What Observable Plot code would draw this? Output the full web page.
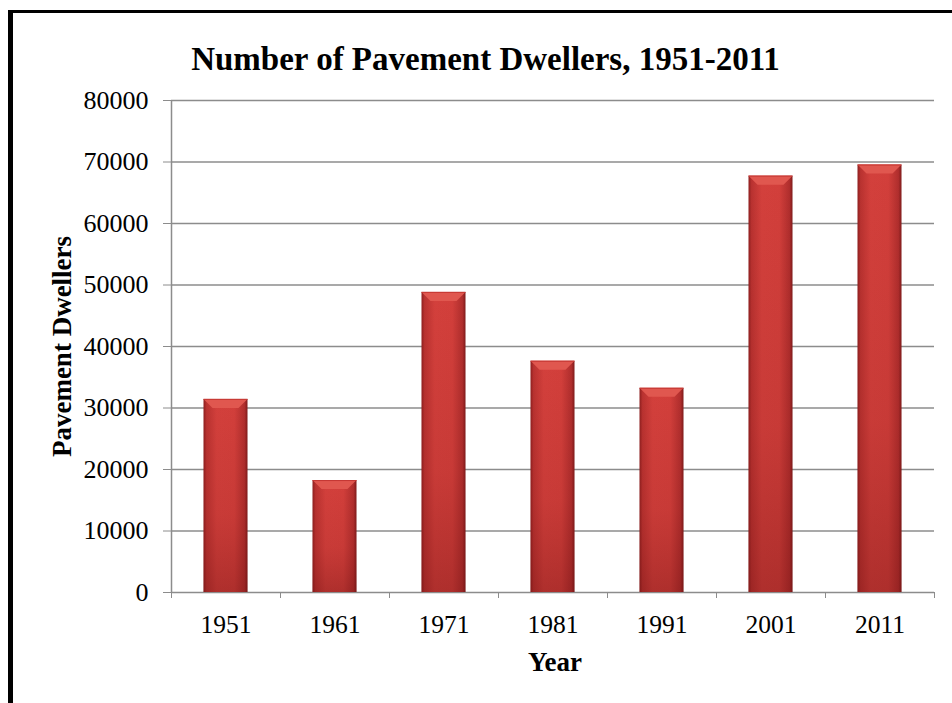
<!DOCTYPE html>
<html>
<head>
<meta charset="utf-8">
<script src="https://cdn.jsdelivr.net/npm/d3@7"></script>
<script src="https://cdn.jsdelivr.net/npm/@observablehq/plot@0.6"></script>
<style>
  html, body { margin: 0; padding: 0; background: #fff; }
  #wrap { position: relative; width: 952px; height: 703px; overflow: hidden; }
  #frame { position: absolute; left: 8px; top: 10px; width: 960px; height: 720px;
           border-left: 5px solid #000; border-top: 3px solid #000; box-sizing: border-box; }
  #chart { position: absolute; left: 0; top: 0; }
</style>
</head>
<body>
<div id="wrap"><div id="frame"></div><div id="chart"></div></div>
<script>
const title = "Number of Pavement Dwellers, 1951-2011";
const xLabel = "Year";
const yLabel = "Pavement Dwellers";
const years = ["1951", "1961", "1971", "1981", "1991", "2001", "2011"];
const dwellers = [31400, 18200, 48800, 37600, 33200, 67700, 69500];
const yTicks = [0, 10000, 20000, 30000, 40000, 50000, 60000, 70000, 80000];

const data = years.map((y, i) => ({year: y, i, value: dwellers[i]}));
const boundaries = d3.range(years.length + 1);
const centers = years.map((_, i) => i + 0.5);

const serif = "'Liberation Serif', 'Times New Roman', serif";
const grid = "#8c8c8c";
const inset = 32.5;

const defs = () => {
  const d = d3.create("svg:defs");
  const h = d.append("linearGradient").attr("id", "gh").attr("x1", 0).attr("x2", 1).attr("y1", 0).attr("y2", 0);
  h.append("stop").attr("offset", "0%").attr("stop-color", "#8e1f1f");
  h.append("stop").attr("offset", "7%").attr("stop-color", "#b93230");
  h.append("stop").attr("offset", "30%").attr("stop-color", "#d3403c");
  h.append("stop").attr("offset", "70%").attr("stop-color", "#d23f3b");
  h.append("stop").attr("offset", "93%").attr("stop-color", "#b02e2d");
  h.append("stop").attr("offset", "100%").attr("stop-color", "#7f1b1b");
  const v = d.append("linearGradient").attr("id", "gv").attr("x1", 0).attr("x2", 0).attr("y1", 0).attr("y2", 1);
  v.append("stop").attr("offset", "0%").attr("stop-color", "#7a1515").attr("stop-opacity", 0);
  v.append("stop").attr("offset", "60%").attr("stop-color", "#7a1515").attr("stop-opacity", 0.12);
  v.append("stop").attr("offset", "100%").attr("stop-color", "#6a1010").attr("stop-opacity", 0.35);
  return d.node();
};

const bevel = (index, scales) => {
  const g = d3.create("svg:g");
  for (const d of data) {
    const x1 = scales.x(d.i) + inset, x2 = scales.x(d.i + 1) - inset;
    const yt = scales.y(d.value), b = 9;
    g.append("polygon")
      .attr("points", `${x1},${yt} ${x2},${yt} ${x2 - b},${yt + b} ${x1 + b},${yt + b}`)
      .attr("fill", "#e0574f");
    g.append("line").attr("x1", x1).attr("x2", x2).attr("y1", yt + 0.5).attr("y2", yt + 0.5)
      .attr("stroke", "#c43733").attr("stroke-width", 1);
  }
  return g.node();
};

const chart = Plot.plot({
  width: 952,
  height: 703,
  marginLeft: 171,
  marginRight: 18,
  marginTop: 100,
  marginBottom: 111,
  style: {fontFamily: serif, background: "transparent", color: "#000"},
  x: {type: "linear", domain: [0, years.length], axis: null},
  y: {domain: [0, 80000], axis: null},
  marks: [
    defs,
    Plot.gridY(yTicks, {stroke: grid, strokeOpacity: 1, strokeWidth: 1.5}),
    Plot.ruleX([0], {y1: 0, y2: 80000, stroke: grid, strokeWidth: 1.5}),
    Plot.axisY({ticks: yTicks, tickSize: 8, tickPadding: 15, stroke: grid, fill: "#000", fontSize: 26, tickFormat: d => String(d), label: null}),
    Plot.axisX({ticks: boundaries, tickSize: 6, tickFormat: () => "", stroke: grid, label: null}),
    Plot.axisX({ticks: centers, tickSize: 0, tickPadding: 22, fill: "#000", fontSize: 25.5, tickFormat: v => years[Math.floor(v)], label: null}),
    Plot.rectY(data, {x1: "i", x2: d => d.i + 1, y: "value", insetLeft: inset, insetRight: inset, fill: "url(#gh)"}),
    Plot.rectY(data, {x1: "i", x2: d => d.i + 1, y: "value", insetLeft: inset, insetRight: inset, fill: "url(#gv)"}),
    bevel,
    Plot.text([title], {frameAnchor: "top", textAnchor: "middle", lineAnchor: "bottom", dy: -31, dx: -67.5, fontSize: 33, fontWeight: "bold", fill: "#000"}),
    Plot.text([xLabel], {frameAnchor: "bottom", textAnchor: "middle", lineAnchor: "bottom", dy: 78, dx: 2, fontSize: 27, fontWeight: "bold", fill: "#000"}),
    Plot.text([yLabel], {frameAnchor: "left", textAnchor: "middle", lineAnchor: "bottom", rotate: -90, dx: -101, dy: 0, fontSize: 27, fontWeight: "bold", fill: "#000"})
  ]
});
document.getElementById("chart").appendChild(chart);
</script>
</body>
</html>
